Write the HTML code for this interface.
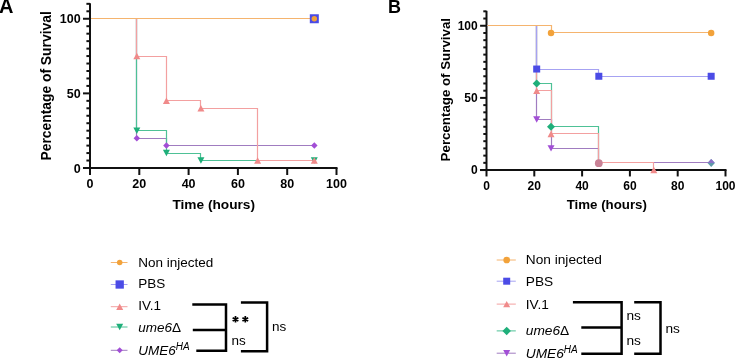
<!DOCTYPE html>
<html><head><meta charset="utf-8"><style>
html,body{margin:0;padding:0;background:#fff;}
svg{display:block;font-family:"Liberation Sans",sans-serif;will-change:transform;}
</style></head><body>
<svg width="735" height="360" viewBox="0 0 735 360">
<rect width="735" height="360" fill="#fff"/>
<path d="M90 3.33V168" stroke="#111" stroke-width="2" fill="none"/>
<path d="M83 168H337.5" stroke="#111" stroke-width="2" fill="none"/>
<path d="M83 168H90" stroke="#111" stroke-width="2" fill="none"/>
<path d="M86.4 160.54H90" stroke="#111" stroke-width="2" fill="none"/>
<path d="M86.4 153.07H90" stroke="#111" stroke-width="2" fill="none"/>
<path d="M86.4 145.61H90" stroke="#111" stroke-width="2" fill="none"/>
<path d="M86.4 138.15H90" stroke="#111" stroke-width="2" fill="none"/>
<path d="M86.4 130.69H90" stroke="#111" stroke-width="2" fill="none"/>
<path d="M86.4 123.22H90" stroke="#111" stroke-width="2" fill="none"/>
<path d="M86.4 115.76H90" stroke="#111" stroke-width="2" fill="none"/>
<path d="M86.4 108.3H90" stroke="#111" stroke-width="2" fill="none"/>
<path d="M86.4 100.84H90" stroke="#111" stroke-width="2" fill="none"/>
<path d="M83 93.38H90" stroke="#111" stroke-width="2" fill="none"/>
<path d="M86.4 85.91H90" stroke="#111" stroke-width="2" fill="none"/>
<path d="M86.4 78.45H90" stroke="#111" stroke-width="2" fill="none"/>
<path d="M86.4 70.99H90" stroke="#111" stroke-width="2" fill="none"/>
<path d="M86.4 63.53H90" stroke="#111" stroke-width="2" fill="none"/>
<path d="M86.4 56.06H90" stroke="#111" stroke-width="2" fill="none"/>
<path d="M86.4 48.6H90" stroke="#111" stroke-width="2" fill="none"/>
<path d="M86.4 41.14H90" stroke="#111" stroke-width="2" fill="none"/>
<path d="M86.4 33.68H90" stroke="#111" stroke-width="2" fill="none"/>
<path d="M86.4 26.21H90" stroke="#111" stroke-width="2" fill="none"/>
<path d="M83 18.75H90" stroke="#111" stroke-width="2" fill="none"/>
<path d="M86.4 11.29H90" stroke="#111" stroke-width="2" fill="none"/>
<path d="M86.4 3.83H90" stroke="#111" stroke-width="2" fill="none"/>
<path d="M90 168V175" stroke="#111" stroke-width="2" fill="none"/>
<path d="M139.3 168V175" stroke="#111" stroke-width="2" fill="none"/>
<path d="M188.6 168V175" stroke="#111" stroke-width="2" fill="none"/>
<path d="M237.9 168V175" stroke="#111" stroke-width="2" fill="none"/>
<path d="M287.2 168V175" stroke="#111" stroke-width="2" fill="none"/>
<path d="M336.5 168V175" stroke="#111" stroke-width="2" fill="none"/>
<text x="80.7" y="172.5" text-anchor="end" font-size="12.5" font-weight="bold">0</text>
<text x="80.7" y="97.88" text-anchor="end" font-size="12.5" font-weight="bold">50</text>
<text x="80.7" y="23.25" text-anchor="end" font-size="12.5" font-weight="bold">100</text>
<text x="90" y="188.2" text-anchor="middle" font-size="12.5" font-weight="bold">0</text>
<text x="139.3" y="188.2" text-anchor="middle" font-size="12.5" font-weight="bold">20</text>
<text x="188.6" y="188.2" text-anchor="middle" font-size="12.5" font-weight="bold">40</text>
<text x="237.9" y="188.2" text-anchor="middle" font-size="12.5" font-weight="bold">60</text>
<text x="287.2" y="188.2" text-anchor="middle" font-size="12.5" font-weight="bold">80</text>
<text x="336.5" y="188.2" text-anchor="middle" font-size="12.5" font-weight="bold">100</text>
<text x="213.7" y="208.5" text-anchor="middle" font-size="13.7" font-weight="bold">Time (hours)</text>
<text transform="translate(50.5 85.9) rotate(-90)" text-anchor="middle" font-size="13.85" font-weight="bold">Percentage of Survival</text>
<path d="M91 18.5H136.5V138.5H166.5V145.5H314.31" fill="none" stroke="#A07CC0" stroke-width="1.2"/>
<path d="M91 18.5H136.5V130.5H166.5V153.5H200.5V160.5H314.31" fill="none" stroke="#4EC196" stroke-width="1.2"/>
<path d="M91 18.5H136.5V56.5H166.5V100.5H200.5V108.5H257.5V160.5H314.31" fill="none" stroke="#F3A0A0" stroke-width="1.2"/>
<path d="M91 18.5H314.31" fill="none" stroke="#A6A2F2" stroke-width="1.2"/>
<path d="M91 18.5H314.31" fill="none" stroke="#F5B46E" stroke-width="1.2"/>
<path d="M136.83 134.9L140.08 138.15L136.83 141.4L133.58 138.15Z" fill="#A24ED6"/>
<path d="M166.41 142.36L169.66 145.61L166.41 148.86L163.16 145.61Z" fill="#A24ED6"/>
<path d="M314.31 142.36L317.56 145.61L314.31 148.86L311.06 145.61Z" fill="#A24ED6"/>
<path d="M133.33 127.47L140.33 127.47L136.83 133.91Z" fill="#1FAF7A"/>
<path d="M162.91 149.85L169.91 149.85L166.41 156.29Z" fill="#1FAF7A"/>
<path d="M197.43 157.32L204.43 157.32L200.93 163.76Z" fill="#1FAF7A"/>
<path d="M310.81 157.32L317.81 157.32L314.31 163.76Z" fill="#1FAF7A"/>
<path d="M133.33 59.28L140.33 59.28L136.83 52.84Z" fill="#F08A8A"/>
<path d="M162.91 104.06L169.91 104.06L166.41 97.62Z" fill="#F08A8A"/>
<path d="M197.43 111.52L204.43 111.52L200.93 105.08Z" fill="#F08A8A"/>
<path d="M254.12 163.76L261.12 163.76L257.62 157.32Z" fill="#F08A8A"/>
<path d="M310.81 163.76L317.81 163.76L314.31 157.32Z" fill="#F08A8A"/>
<rect x="309.81" y="14.25" width="9" height="9" fill="#4B4BE6"/>
<circle cx="314.31" cy="18.75" r="2.75" fill="#F2A23A"/>
<path d="M486.5 10.82V170.05" stroke="#111" stroke-width="2" fill="none"/>
<path d="M480.1 170.05H726.5" stroke="#111" stroke-width="2" fill="none"/>
<path d="M480.1 170.05H486.5" stroke="#111" stroke-width="2" fill="none"/>
<path d="M483.3 162.84H486.5" stroke="#111" stroke-width="2" fill="none"/>
<path d="M483.3 155.62H486.5" stroke="#111" stroke-width="2" fill="none"/>
<path d="M483.3 148.41H486.5" stroke="#111" stroke-width="2" fill="none"/>
<path d="M483.3 141.19H486.5" stroke="#111" stroke-width="2" fill="none"/>
<path d="M483.3 133.98H486.5" stroke="#111" stroke-width="2" fill="none"/>
<path d="M483.3 126.76H486.5" stroke="#111" stroke-width="2" fill="none"/>
<path d="M483.3 119.55H486.5" stroke="#111" stroke-width="2" fill="none"/>
<path d="M483.3 112.33H486.5" stroke="#111" stroke-width="2" fill="none"/>
<path d="M483.3 105.12H486.5" stroke="#111" stroke-width="2" fill="none"/>
<path d="M480.1 97.9H486.5" stroke="#111" stroke-width="2" fill="none"/>
<path d="M483.3 90.69H486.5" stroke="#111" stroke-width="2" fill="none"/>
<path d="M483.3 83.47H486.5" stroke="#111" stroke-width="2" fill="none"/>
<path d="M483.3 76.26H486.5" stroke="#111" stroke-width="2" fill="none"/>
<path d="M483.3 69.04H486.5" stroke="#111" stroke-width="2" fill="none"/>
<path d="M483.3 61.83H486.5" stroke="#111" stroke-width="2" fill="none"/>
<path d="M483.3 54.61H486.5" stroke="#111" stroke-width="2" fill="none"/>
<path d="M483.3 47.4H486.5" stroke="#111" stroke-width="2" fill="none"/>
<path d="M483.3 40.18H486.5" stroke="#111" stroke-width="2" fill="none"/>
<path d="M483.3 32.97H486.5" stroke="#111" stroke-width="2" fill="none"/>
<path d="M480.1 25.75H486.5" stroke="#111" stroke-width="2" fill="none"/>
<path d="M483.3 18.53H486.5" stroke="#111" stroke-width="2" fill="none"/>
<path d="M483.3 11.32H486.5" stroke="#111" stroke-width="2" fill="none"/>
<path d="M486.5 170.05V176.45" stroke="#111" stroke-width="2" fill="none"/>
<path d="M534.3 170.05V176.45" stroke="#111" stroke-width="2" fill="none"/>
<path d="M582.1 170.05V176.45" stroke="#111" stroke-width="2" fill="none"/>
<path d="M629.9 170.05V176.45" stroke="#111" stroke-width="2" fill="none"/>
<path d="M677.7 170.05V176.45" stroke="#111" stroke-width="2" fill="none"/>
<path d="M725.5 170.05V176.45" stroke="#111" stroke-width="2" fill="none"/>
<text x="477.7" y="174.15" text-anchor="end" font-size="12" font-weight="bold">0</text>
<text x="477.7" y="102" text-anchor="end" font-size="12" font-weight="bold">50</text>
<text x="477.7" y="29.85" text-anchor="end" font-size="12" font-weight="bold">100</text>
<text x="486.5" y="189.6" text-anchor="middle" font-size="12" font-weight="bold">0</text>
<text x="534.3" y="189.6" text-anchor="middle" font-size="12" font-weight="bold">20</text>
<text x="582.1" y="189.6" text-anchor="middle" font-size="12" font-weight="bold">40</text>
<text x="629.9" y="189.6" text-anchor="middle" font-size="12" font-weight="bold">60</text>
<text x="677.7" y="189.6" text-anchor="middle" font-size="12" font-weight="bold">80</text>
<text x="725.5" y="189.6" text-anchor="middle" font-size="12" font-weight="bold">100</text>
<text x="606.8" y="208.8" text-anchor="middle" font-size="13.3" font-weight="bold">Time (hours)</text>
<text transform="translate(449.5 89.7) rotate(-90)" text-anchor="middle" font-size="13.3" font-weight="bold">Percentage of Survival</text>
<path d="M487.5 25.5H536.5V83.5H551.5V126.5H598.5V162.5H711.16" fill="none" stroke="#4EC196" stroke-width="1.2"/>
<path d="M487.5 25.5H536.5V119.5H551.5V148.5H598.5V162.5H711.16" fill="none" stroke="#A07CC0" stroke-width="1.2"/>
<path d="M487.5 25.5H536.5V90.5H551.5V133.5H598.5V162.5H653.5V170.5H653.8" fill="none" stroke="#F3A0A0" stroke-width="1.2"/>
<path d="M487.5 25.5H536.5V69.5H598.5V76.5H711.16" fill="none" stroke="#A6A2F2" stroke-width="1.2"/>
<path d="M487.5 25.5H551.5V32.5H711.16" fill="none" stroke="#F5B46E" stroke-width="1.2"/>
<path d="M536.69 79.47L540.69 83.47L536.69 87.47L532.69 83.47Z" fill="#1FAF7A"/>
<path d="M551.03 122.76L555.03 126.76L551.03 130.76L547.03 126.76Z" fill="#1FAF7A"/>
<path d="M533.19 116.33L540.19 116.33L536.69 122.77Z" fill="#A24ED6"/>
<path d="M547.53 145.19L554.53 145.19L551.03 151.62Z" fill="#A24ED6"/>
<path d="M533.19 93.91L540.19 93.91L536.69 87.47Z" fill="#F08A8A"/>
<path d="M547.53 137.2L554.53 137.2L551.03 130.76Z" fill="#F08A8A"/>
<path d="M650.3 173.27L657.3 173.27L653.8 166.83Z" fill="#F08A8A"/>
<rect x="533.19" y="65.54" width="7" height="7" fill="#4B4BE6"/>
<rect x="595.33" y="72.76" width="7" height="7" fill="#4B4BE6"/>
<rect x="707.66" y="72.76" width="7" height="7" fill="#4B4BE6"/>
<circle cx="551.03" cy="32.97" r="3.25" fill="#F2A23A"/>
<circle cx="711.16" cy="32.97" r="3.25" fill="#F2A23A"/>
<path d="M110.8 262.5H127.5" stroke="#F5B46E" stroke-width="1"/>
<circle cx="119.7" cy="262.5" r="2.75" fill="#F2A23A"/>
<text x="138.2" y="267.2" font-size="13.5">Non injected</text>
<path d="M110.8 284.5H127.5" stroke="#A6A2F2" stroke-width="1"/>
<rect x="115.55" y="280.35" width="8.3" height="8.3" fill="#4B4BE6"/>
<text x="138.2" y="288.3" font-size="13.5">PBS</text>
<path d="M110.8 306.7H127.5" stroke="#F3A0A0" stroke-width="1"/>
<path d="M116.2 309.92L123.2 309.92L119.7 303.48Z" fill="#F08A8A"/>
<text x="138.2" y="310.4" font-size="13.5">IV.1</text>
<path d="M110.8 327H127.5" stroke="#4EC196" stroke-width="1"/>
<path d="M116.2 323.78L123.2 323.78L119.7 330.22Z" fill="#1FAF7A"/>
<text x="138.2" y="331.8" font-size="13.5"><tspan font-style="italic">ume6</tspan>&#916;</text>
<path d="M110.8 350.3H127.5" stroke="#A07CC0" stroke-width="1"/>
<path d="M119.7 347.3L122.7 350.3L119.7 353.3L116.7 350.3Z" fill="#A24ED6"/>
<text x="138.2" y="355.2" font-size="13.5"><tspan font-style="italic">UME6</tspan><tspan font-style="italic" font-size="10" dy="-5">HA</tspan></text>
<path d="M192.3 304.4H226V350.8H196.3M192.8 329.9H226" stroke="#000" stroke-width="2.5" fill="none"/>
<path d="M240.9 302.5H267.1V351.3H240.9" stroke="#000" stroke-width="2.5" fill="none"/>
<text x="231.5" y="344.6" font-size="13.5" font-weight="normal">ns</text>
<text x="272" y="330.8" font-size="13.5" font-weight="normal">ns</text>
<path d="M496.7 260H515.8" stroke="#F5B46E" stroke-width="1"/>
<circle cx="506.7" cy="260" r="3.35" fill="#F2A23A"/>
<text x="525.8" y="263.7" font-size="13.7">Non injected</text>
<path d="M496.7 281.2H515.8" stroke="#A6A2F2" stroke-width="1"/>
<rect x="503.2" y="277.7" width="7" height="7" fill="#4B4BE6"/>
<text x="525.8" y="286.1" font-size="13.7">PBS</text>
<path d="M496.7 304.1H515.8" stroke="#F3A0A0" stroke-width="1"/>
<path d="M503.2 307.32L510.2 307.32L506.7 300.88Z" fill="#F08A8A"/>
<text x="525.8" y="308.6" font-size="13.7">IV.1</text>
<path d="M496.7 330.9H515.8" stroke="#4EC196" stroke-width="1"/>
<path d="M506.7 326.65L510.95 330.9L506.7 335.15L502.45 330.9Z" fill="#1FAF7A"/>
<text x="525.8" y="335.4" font-size="13.7"><tspan font-style="italic">ume6</tspan>&#916;</text>
<path d="M496.7 353.2H515.8" stroke="#A07CC0" stroke-width="1"/>
<path d="M503.2 349.98L510.2 349.98L506.7 356.42Z" fill="#A24ED6"/>
<text x="525.8" y="357.9" font-size="13.7"><tspan font-style="italic">UME6</tspan><tspan font-style="italic" font-size="10" dy="-5">HA</tspan></text>
<path d="M572.9 302.3H621.6V353.8H581.3M581.3 327.4H621.6" stroke="#000" stroke-width="2.5" fill="none"/>
<path d="M634.2 302.3H660.5V353.8H634.2" stroke="#000" stroke-width="2.5" fill="none"/>
<text x="626.5" y="319.6" font-size="13.7" font-weight="normal">ns</text>
<text x="626.5" y="345.4" font-size="13.7" font-weight="normal">ns</text>
<text x="665.5" y="332.8" font-size="13.7" font-weight="normal">ns</text>
<text x="-1" y="12.9" font-size="20" font-weight="bold">A</text>
<text x="388" y="12.8" font-size="18" font-weight="bold">B</text>
<path d="M235.5 316L235.5 322.6M232.64 317.65L238.36 320.95M232.64 320.95L238.36 317.65" stroke="#000" stroke-width="1.7" fill="none"/>
<circle cx="598.8" cy="163.2" r="3.9" fill="#C98296"/>
<path d="M711.2 159L714.9 163L711.2 167L707.5 163Z" fill="#5F9AA8"/>
<path d="M707.5 163L711.2 159L714.9 163Z" fill="#8C70C8"/>
<path d="M245.3 316L245.3 322.6M242.44 317.65L248.16 320.95M242.44 320.95L248.16 317.65" stroke="#000" stroke-width="1.7" fill="none"/>
</svg>
</body></html>
